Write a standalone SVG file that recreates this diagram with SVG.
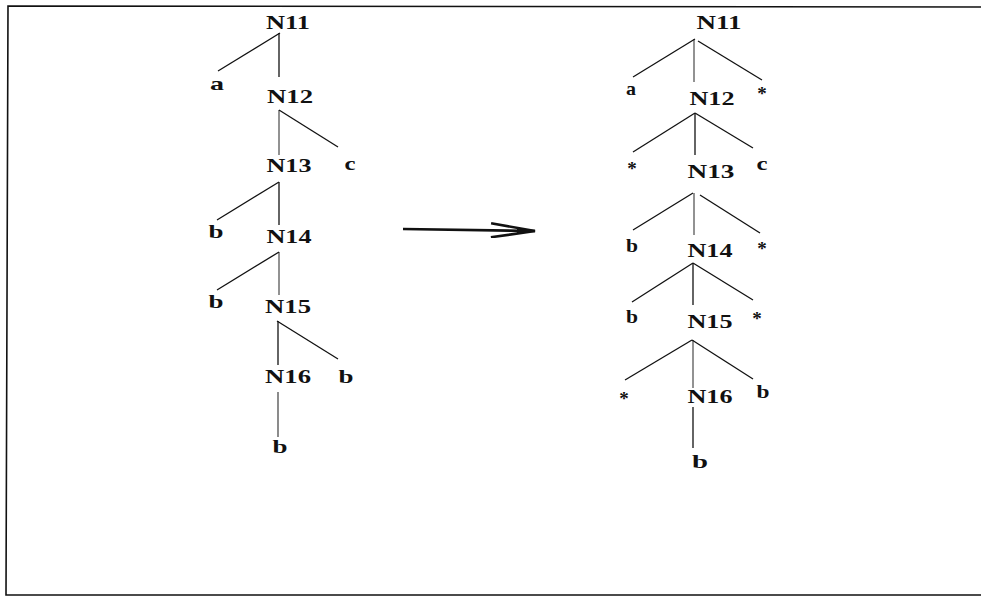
<svg xmlns="http://www.w3.org/2000/svg" width="982" height="596" viewBox="0 0 982 596">
  <style>
    .frame { fill: none; stroke: #111; stroke-width: 1.6; }
    .edge { stroke: #111; stroke-width: 1.3; fill: none; }
    .lbl { font-family: "Liberation Serif", "Times New Roman", serif; font-weight: bold; font-size: 19px; fill: #111; text-anchor: middle; }
    .star { font-family: "Liberation Serif", "Times New Roman", serif; font-weight: bold; font-size: 19px; fill: #111; text-anchor: middle; }
  </style>
  <defs>
    <!-- long open chevron head for the transformation arrow -->
    <marker id="open-head" viewBox="0 0 48 16" refX="46" refY="8" markerWidth="48" markerHeight="16" markerUnits="userSpaceOnUse" orient="auto">
      <path d="M2,1 L46,8 L2,15" fill="none" stroke="#111" stroke-width="2.6" stroke-linejoin="miter"/>
      <path d="M28,5 L46,8 L28,11 Z" fill="#111"/>
    </marker>
  </defs>
  <rect width="982" height="596" fill="#fff"/>
  <path class="frame" d="M981,7 L8,6 L6,595 L981,595"/>

  <g id="connectors">
    <!-- left tree -->
    <line class="edge" x1="280" y1="33" x2="218" y2="71"/>
    <line class="edge" x1="279" y1="33" x2="279" y2="77"/>
    <line class="edge" x1="279" y1="110" x2="338" y2="147"/>
    <line class="edge" x1="279" y1="110" x2="279" y2="155" stroke-opacity="0.7"/>
    <line class="edge" x1="279" y1="182" x2="217" y2="220"/>
    <line class="edge" x1="279" y1="182" x2="279" y2="225"/>
    <line class="edge" x1="279" y1="252" x2="217" y2="290"/>
    <line class="edge" x1="279" y1="252" x2="279" y2="295" stroke-opacity="0.7"/>
    <line class="edge" x1="277" y1="321" x2="338" y2="359"/>
    <line class="edge" x1="278" y1="321" x2="278" y2="365"/>
    <line class="edge" x1="278" y1="392" x2="278" y2="437" stroke-opacity="0.75"/>
    <!-- right tree -->
    <line class="edge" x1="695" y1="39" x2="633" y2="77"/>
    <line class="edge" x1="694" y1="39" x2="694" y2="82" stroke-opacity="0.7"/>
    <line class="edge" x1="698" y1="41" x2="762" y2="80"/>
    <line class="edge" x1="695" y1="113" x2="633" y2="152"/>
    <line class="edge" x1="695" y1="113" x2="695" y2="155"/>
    <line class="edge" x1="695" y1="113" x2="753" y2="148"/>
    <line class="edge" x1="693" y1="193" x2="633" y2="230"/>
    <line class="edge" x1="694" y1="193" x2="694" y2="235" stroke-opacity="0.7"/>
    <line class="edge" x1="700" y1="195" x2="760" y2="233"/>
    <line class="edge" x1="693" y1="263" x2="632" y2="302"/>
    <line class="edge" x1="693" y1="263" x2="693" y2="305"/>
    <line class="edge" x1="693" y1="263" x2="753" y2="300"/>
    <line class="edge" x1="692" y1="340" x2="625" y2="380"/>
    <line class="edge" x1="693" y1="340" x2="693" y2="388" stroke-opacity="0.7"/>
    <line class="edge" x1="692" y1="340" x2="753" y2="379"/>
    <line class="edge" x1="693" y1="407" x2="693" y2="448"/>
    <!-- transformation arrow -->
    <line x1="403" y1="229" x2="535" y2="231" stroke="#111" stroke-width="2.6" marker-end="url(#open-head)"/>
  </g>

  <!-- left tree nodes -->
  <g id="L-N11"><text class="lbl" x="288" y="29" textLength="44" lengthAdjust="spacingAndGlyphs">N11</text></g>
  <g id="L-a"><text class="lbl" x="217" y="90" textLength="14" lengthAdjust="spacingAndGlyphs">a</text></g>
  <g id="L-N12"><text class="lbl" x="290" y="103" textLength="46" lengthAdjust="spacingAndGlyphs">N12</text></g>
  <g id="L-c"><text class="lbl" x="350" y="170" textLength="11" lengthAdjust="spacingAndGlyphs">c</text></g>
  <g id="L-N13"><text class="lbl" x="289" y="172" textLength="45" lengthAdjust="spacingAndGlyphs">N13</text></g>
  <g id="L-b1"><text class="lbl" x="216" y="238" textLength="15" lengthAdjust="spacingAndGlyphs">b</text></g>
  <g id="L-N14"><text class="lbl" x="289" y="243" textLength="45" lengthAdjust="spacingAndGlyphs">N14</text></g>
  <g id="L-b2"><text class="lbl" x="216" y="308" textLength="15" lengthAdjust="spacingAndGlyphs">b</text></g>
  <g id="L-N15"><text class="lbl" x="288" y="313" textLength="46" lengthAdjust="spacingAndGlyphs">N15</text></g>
  <g id="L-b3"><text class="lbl" x="346" y="383" textLength="15" lengthAdjust="spacingAndGlyphs">b</text></g>
  <g id="L-N16"><text class="lbl" x="288" y="383" textLength="46" lengthAdjust="spacingAndGlyphs">N16</text></g>
  <g id="L-b4"><text class="lbl" x="280" y="453" textLength="15" lengthAdjust="spacingAndGlyphs">b</text></g>

  <!-- right tree nodes -->
  <g id="R-N11"><text class="lbl" x="719" y="29" textLength="45" lengthAdjust="spacingAndGlyphs">N11</text></g>
  <g id="R-a"><text class="lbl" x="631" y="95" textLength="10" lengthAdjust="spacingAndGlyphs">a</text></g>
  <g id="R-s1"><text class="star" x="762" y="100">*</text></g>
  <g id="R-N12"><text class="lbl" x="712" y="105" textLength="45" lengthAdjust="spacingAndGlyphs">N12</text></g>
  <g id="R-s2"><text class="star" x="632" y="175">*</text></g>
  <g id="R-c"><text class="lbl" x="762" y="170" textLength="11" lengthAdjust="spacingAndGlyphs">c</text></g>
  <g id="R-N13"><text class="lbl" x="711" y="178" textLength="47" lengthAdjust="spacingAndGlyphs">N13</text></g>
  <g id="R-b1"><text class="lbl" x="632" y="252" textLength="12" lengthAdjust="spacingAndGlyphs">b</text></g>
  <g id="R-s3"><text class="star" x="762" y="255">*</text></g>
  <g id="R-N14"><text class="lbl" x="710" y="257" textLength="45" lengthAdjust="spacingAndGlyphs">N14</text></g>
  <g id="R-b2"><text class="lbl" x="632" y="323" textLength="12" lengthAdjust="spacingAndGlyphs">b</text></g>
  <g id="R-s4"><text class="star" x="757" y="325">*</text></g>
  <g id="R-N15"><text class="lbl" x="710" y="328" textLength="45" lengthAdjust="spacingAndGlyphs">N15</text></g>
  <g id="R-s5"><text class="star" x="624" y="405">*</text></g>
  <g id="R-N16"><text class="lbl" x="710" y="403" textLength="45" lengthAdjust="spacingAndGlyphs">N16</text></g>
  <g id="R-b3"><text class="lbl" x="763" y="398" textLength="13" lengthAdjust="spacingAndGlyphs">b</text></g>
  <g id="R-b4"><text class="lbl" x="700" y="468" textLength="16" lengthAdjust="spacingAndGlyphs">b</text></g>
</svg>
